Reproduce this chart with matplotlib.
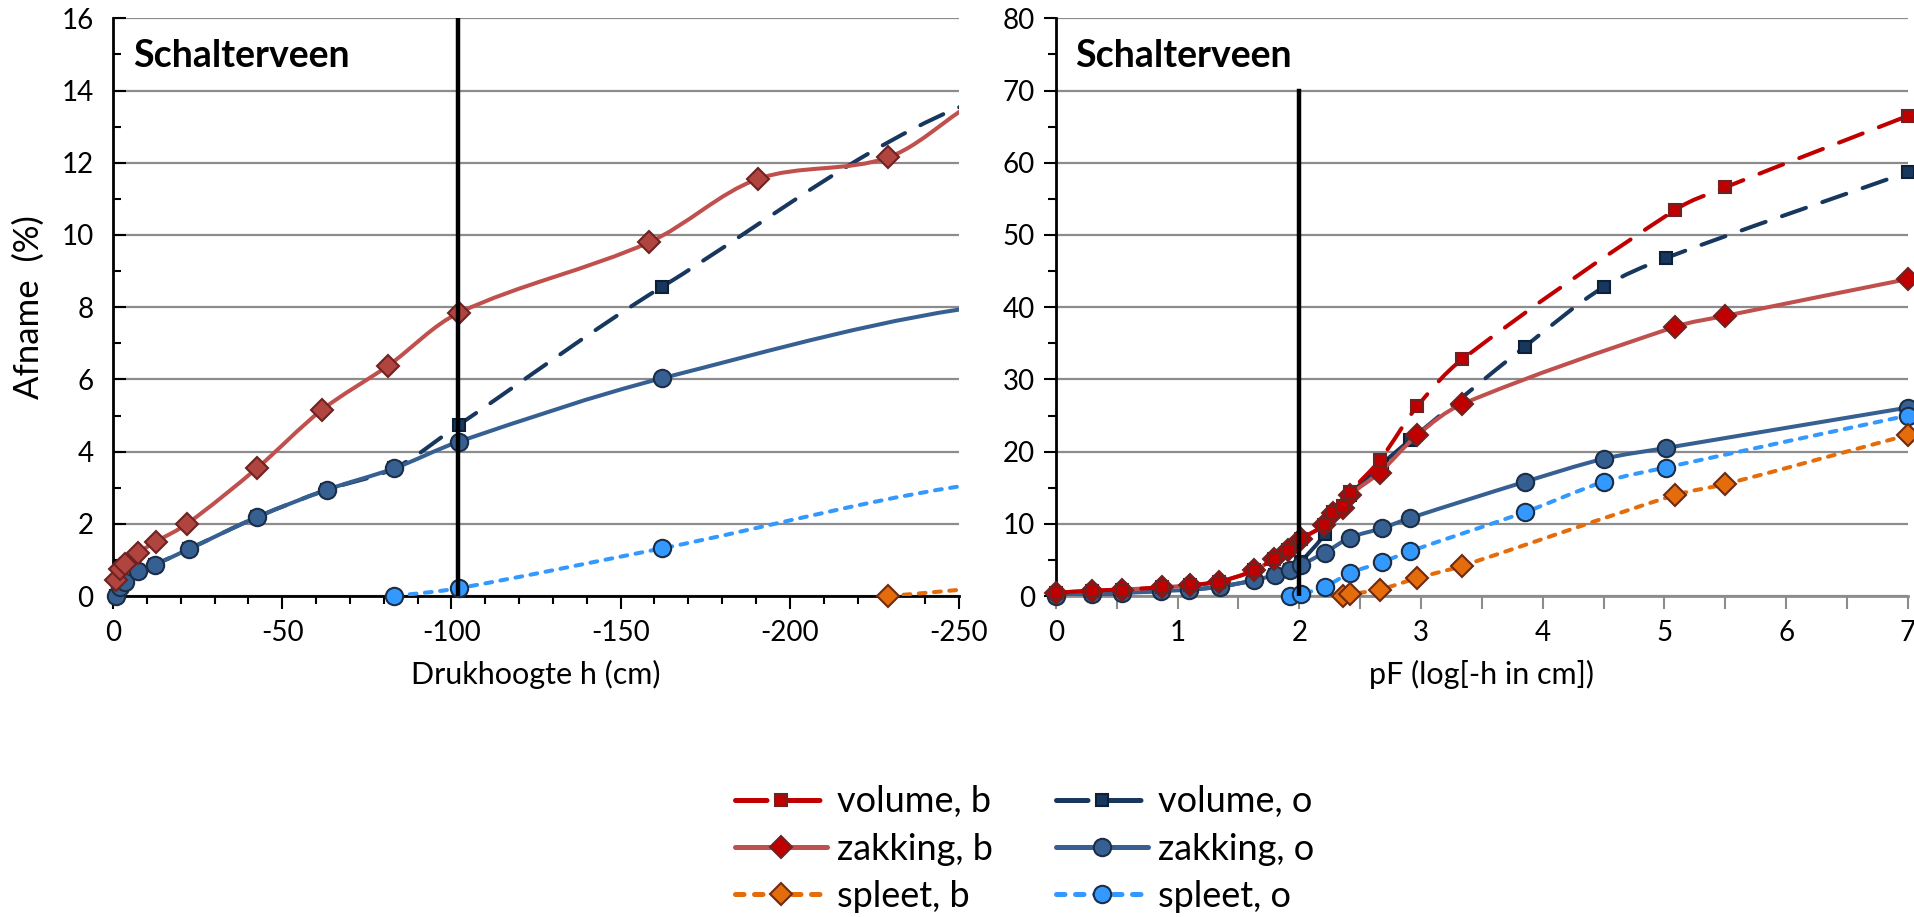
import numpy as np
import matplotlib
matplotlib.use("Agg")
import matplotlib.pyplot as plt
from matplotlib.ticker import MultipleLocator
from matplotlib.path import Path
from matplotlib.patches import PathPatch
from matplotlib.lines import Line2D

plt.rcParams['font.family'] = ['Lato', 'DejaVu Sans']
plt.rcParams['axes.unicode_minus'] = False

# data (pF = log10(-h in cm)); left panel uses h = -10**pF
pF_b = [0.0, 0.30, 0.54, 0.87, 1.10, 1.34, 1.63, 1.79, 1.91, 2.01, 2.20, 2.28, 2.36, 2.42,
        2.66, 2.97, 3.34, 5.09, 5.50, 7.00]
volume_b = [0.45, 0.75, 0.90, 1.20, 1.50, 2.00, 3.55, 5.15, 6.38, 7.85, 9.80, 11.7, 12.5, 14.4,
            18.8, 26.3, 32.8, 53.5, 56.6, 66.5]
zakking_b = [0.45, 0.75, 0.90, 1.20, 1.50, 2.00, 3.55, 5.15, 6.38, 7.85, 9.80, 11.55, 12.15, 14.0,
             17.1, 22.3, 26.6, 37.3, 38.8, 43.9]

pF_spleet_b = [2.36, 2.42, 2.66, 2.97, 3.34, 5.09, 5.50, 7.00]
spleet_b = [0.0, 0.25, 0.9, 2.5, 4.2, 14.0, 15.5, 22.3]

pF_o = [0.0, 0.30, 0.54, 0.86, 1.09, 1.35, 1.63, 1.80, 1.92, 2.01, 2.21, 2.42, 2.68, 2.91,
        3.85, 4.50, 5.01, 7.00]
volume_o = [0.0, 0.24, 0.40, 0.70, 0.87, 1.30, 2.19, 2.94, 3.54, 4.75, 8.56, 14.0, 18.3, 21.6,
            34.5, 42.8, 46.8, 58.7]
zakking_o = [0.0, 0.24, 0.40, 0.70, 0.87, 1.30, 2.19, 2.94, 3.54, 4.28, 6.03, 8.1, 9.4, 10.8,
             15.8, 19.0, 20.5, 26.1]

pF_spleet_o = [1.92, 2.01, 2.21, 2.42, 2.68, 2.91, 3.85, 4.50, 5.01, 7.00]
spleet_o = [0.0, 0.22, 1.32, 3.2, 4.7, 6.2, 11.6, 15.8, 17.8, 25.0]

h_line = -102   # vertical marker line, left panel
pF_line = 2.0   # vertical marker line, right panel

LW = 2.9
DASH_LONG = (0, (6.3, 4.3))
DASH_SHORT = (0, (1.7, 2.1))
styles = {
    'volume, b': dict(color='#C00000', ls=DASH_LONG, marker='s', ms=9, mfc='#C00000', mec='#6E2222'),
    'volume, o': dict(color='#17375E', ls=DASH_LONG, marker='s', ms=9, mfc='#17375E', mec='#0E2036'),
    'zakking, b': dict(color='#C0504D', ls='-', marker='D', ms=11.5, mfc='#C00000', mec='#6E2222'),
    'zakking, o': dict(color='#376092', ls='-', marker='o', ms=12.5, mfc='#376092', mec='#1B2E48'),
    'spleet, b': dict(color='#E46C0A', ls=DASH_SHORT, marker='D', ms=11.5, mfc='#E46C0A', mec='#6E2A12'),
    'spleet, o': dict(color='#3399FF', ls=DASH_SHORT, marker='o', ms=12.5, mfc='#3399FF', mec='#1B2E48'),
}

series = {
    'volume, b': (pF_b, volume_b),
    'volume, o': (pF_o, volume_o),
    'zakking, b': (pF_b, zakking_b),
    'zakking, o': (pF_o, zakking_o),
    'spleet, b': (pF_spleet_b, spleet_b),
    'spleet, o': (pF_spleet_o, spleet_o),
}


def smooth_path(ax, x, y):
    # bezier path through the points (smoothed line), tangents built in screen space
    pts = ax.transData.transform(np.column_stack([x, y]).astype(float))
    n = len(pts)
    seg = np.diff(pts, axis=0)
    L = np.hypot(seg[:, 0], seg[:, 1])
    m = np.zeros_like(pts)
    m[0] = seg[0] / L[0]
    m[-1] = seg[-1] / L[-1]
    for i in range(1, n - 1):
        m[i] = (pts[i + 1] - pts[i - 1]) / (L[i - 1] + L[i])
    verts = [pts[0]]
    codes = [Path.MOVETO]
    for i in range(n - 1):
        verts += [pts[i] + m[i] * L[i] / 3, pts[i + 1] - m[i + 1] * L[i] / 3, pts[i + 1]]
        codes += [Path.CURVE4] * 3
    verts = ax.transData.inverted().transform(np.array(verts))
    return Path(verts, codes)


def draw_series(ax, x, y, st, z, keep=None):
    x = np.asarray(x)
    y = np.asarray(y)
    if keep is not None:
        x, y = x[keep], y[keep]
    patch = PathPatch(smooth_path(ax, x, y), fill=False, edgecolor=st['color'], lw=LW,
                      linestyle=st['ls'], capstyle='round', joinstyle='round', zorder=z)
    ax.add_patch(patch)
    inside = (x >= min(ax.get_xlim())) & (x <= max(ax.get_xlim()))
    ax.plot(x[inside], y[inside], ls='none', marker=st['marker'], ms=st['ms'], mfc=st['mfc'],
            mec=st['mec'], mew=1.5, zorder=z + 0.5, clip_on=False)


fig = plt.figure(figsize=(19.15, 9.17), dpi=100)
ax1 = fig.add_axes([0.059, 0.350, 0.4418, 0.630])
ax2 = fig.add_axes([0.5514, 0.350, 0.4449, 0.630])
ax1.set_xlim(0, -250)
ax1.set_ylim(0, 16)
ax2.set_xlim(0, 7)
ax2.set_ylim(0, 80)

GRID = '#8C8C8C'

# ---- left panel: drukhoogte
order_left = ['volume, o', 'zakking, o', 'spleet, o', 'spleet, b', 'zakking, b']
for i, name in enumerate(order_left):
    p, v = series[name]
    h = -10 ** np.array(p)
    # keep the points on the axis plus two beyond it for the curve's shape
    beyond = np.nonzero(h < -250)[0]
    last = beyond[0] + 2 if len(beyond) else len(h)
    keep = np.arange(len(h)) < last
    st = dict(styles[name])
    if name == 'zakking, b':
        st['mfc'] = '#B0443F'
    draw_series(ax1, h, v, st, 3 + i, keep=keep)
ax1.plot([h_line, h_line], [0, 16], color='black', lw=3.2, zorder=10)

ax1.xaxis.set_major_locator(MultipleLocator(50))
ax1.xaxis.set_minor_locator(MultipleLocator(10))
ax1.yaxis.set_major_locator(MultipleLocator(2))
ax1.yaxis.set_minor_locator(MultipleLocator(1))
ax1.tick_params(axis='y', which='both', direction='in', color='black', width=1.5, labelsize=20, pad=14)
ax1.tick_params(axis='y', which='major', length=9)
ax1.tick_params(axis='y', which='minor', length=6)
ax1.tick_params(axis='x', which='both', direction='out', color='black', width=1.5, labelsize=20, pad=8)
ax1.tick_params(axis='x', which='major', length=9)
ax1.tick_params(axis='x', which='minor', length=6)
ax1.set_xlabel('Drukhoogte h (cm)', fontsize=22, labelpad=10)
ax1.set_ylabel('Afname  (%)', fontsize=25, labelpad=12)
ax1.text(0.024, 0.935, 'Schalterveen', transform=ax1.transAxes, fontsize=27,
         fontweight='bold', va='center', ha='left', zorder=20)

# ---- right panel: pF
order_right = ['volume, o', 'zakking, o', 'spleet, o', 'spleet, b', 'zakking, b', 'volume, b']
for i, name in enumerate(order_right):
    p, v = series[name]
    draw_series(ax2, p, v, styles[name], 3 + i)
ax2.plot([pF_line, pF_line], [0, 70], color='black', lw=3.2, zorder=10)

ax2.xaxis.set_major_locator(MultipleLocator(1))
ax2.xaxis.set_minor_locator(MultipleLocator(0.5))
ax2.yaxis.set_major_locator(MultipleLocator(10))
ax2.yaxis.set_minor_locator(MultipleLocator(5))
ax2.tick_params(axis='y', which='both', direction='out', color='black', width=1.5, labelsize=20, pad=6)
ax2.tick_params(axis='y', which='major', length=9)
ax2.tick_params(axis='y', which='minor', length=6)
ax2.tick_params(axis='x', which='both', direction='out', color=GRID, width=1.5, labelsize=20, pad=8)
ax2.tick_params(axis='x', which='major', length=9)
ax2.tick_params(axis='x', which='minor', length=9)
ax2.set_xlabel('pF (log[-h in cm])', fontsize=22, labelpad=10)
ax2.text(0.023, 0.935, 'Schalterveen', transform=ax2.transAxes, fontsize=27,
         fontweight='bold', va='center', ha='left', zorder=20)

for ax, bottom_color in ((ax1, 'black'), (ax2, GRID)):
    ax.spines['top'].set_visible(False)
    ax.spines['right'].set_visible(False)
    ax.spines['left'].set_color('black')
    ax.spines['left'].set_linewidth(2)
    ax.spines['bottom'].set_color(bottom_color)
    ax.spines['bottom'].set_linewidth(2)
    ax.grid(axis='y', which='major', color=GRID, lw=1.6, zorder=0)
    ax.set_axisbelow(True)

legend_order = ['volume, b', 'zakking, b', 'spleet, b', 'volume, o', 'zakking, o', 'spleet, o']
proxies = [Line2D([], [], lw=3.6, dash_capstyle='round', solid_capstyle='round', mew=1.5,
                  **styles[n]) for n in legend_order]
fig.legend(proxies, legend_order, loc='center', ncol=2,
           bbox_to_anchor=(0.535, 0.074), frameon=False, fontsize=26, handlelength=2.55,
           handletextpad=0.27, columnspacing=1.75, labelspacing=0.4, numpoints=1)

fig.savefig('out.png', dpi=100)
